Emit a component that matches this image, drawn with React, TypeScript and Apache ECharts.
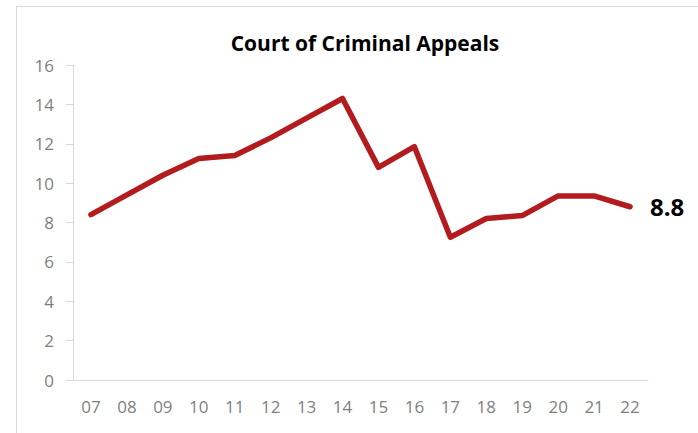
import React, { useEffect, useRef } from "react";
import * as echarts from "echarts";

const title = "Court of Criminal Appeals";
const years = ["07", "08", "09", "10", "11", "12", "13", "14", "15", "16", "17", "18", "19", "20", "21", "22"];
const values = [8.4, 9.4, 10.4, 11.25, 11.4, 12.3, 13.3, 14.3, 10.8, 11.85, 7.25, 8.2, 8.35, 9.35, 9.35, 8.8];
const yTicks = { min: 0, max: 16, interval: 2 };

export default function App() {
  const ref = useRef<HTMLDivElement>(null);
  useEffect(() => {
    if (!ref.current) return;
    const chart = echarts.init(ref.current, null, { renderer: "svg" });
    const font = "'Open Sans', 'Noto Sans', sans-serif";
    chart.setOption({
      animation: false,
      backgroundColor: "#ffffff",
      title: {
        text: title,
        left: 360,
        textAlign: "center",
        top: 27,
        textStyle: { fontFamily: font, fontSize: 21, fontWeight: "bold", color: "#000000" },
      },
      graphic: [
        { type: "line", shape: { x1: 16.5, y1: 6, x2: 16.5, y2: 433 }, style: { stroke: "#d9d9d9", lineWidth: 1 } },
        { type: "line", shape: { x1: 16, y1: 6.5, x2: 698, y2: 6.5 }, style: { stroke: "#d9d9d9", lineWidth: 1 } },
        { type: "line", shape: { x1: 66, y1: 380.5, x2: 73, y2: 380.5 }, style: { stroke: "#d9d9d9", lineWidth: 1 } },
      ],
      grid: { left: 73, right: 50, top: 65, bottom: 53, containLabel: false },
      xAxis: {
        type: "category",
        data: years,
        boundaryGap: true,
        axisTick: { show: false },
        axisLine: { lineStyle: { color: "#d9d9d9", width: 1 } },
        axisLabel: { color: "#7f7f7f", fontFamily: font, fontSize: 17, margin: 18 },
        splitLine: { show: false },
      },
      yAxis: {
        type: "value",
        min: yTicks.min,
        max: yTicks.max,
        interval: yTicks.interval,
        axisLine: { show: true, lineStyle: { color: "#d9d9d9", width: 1 } },
        axisTick: { show: true, length: 7, lineStyle: { color: "#d9d9d9" } },
        axisLabel: { color: "#7f7f7f", fontFamily: font, fontSize: 17, margin: 19 },
        splitLine: { show: false },
      },
      series: [
        {
          type: "line",
          data: values,
          showSymbol: false,
          symbol: "none",
          lineStyle: { color: "#B31B1E", width: 5.5, cap: "round", join: "round" },
          endLabel: {
            show: true,
            formatter: (p: any) => String(p.value),
            distance: 20,
            color: "#000000",
            fontFamily: font,
            fontSize: 24,
            fontWeight: "bold",
          },
        },
      ],
    });
    return () => chart.dispose();
  }, []);
  return <div ref={ref} style={{ width: 698, height: 433, position: "fixed", left: 0, top: 0 }} />;
}
